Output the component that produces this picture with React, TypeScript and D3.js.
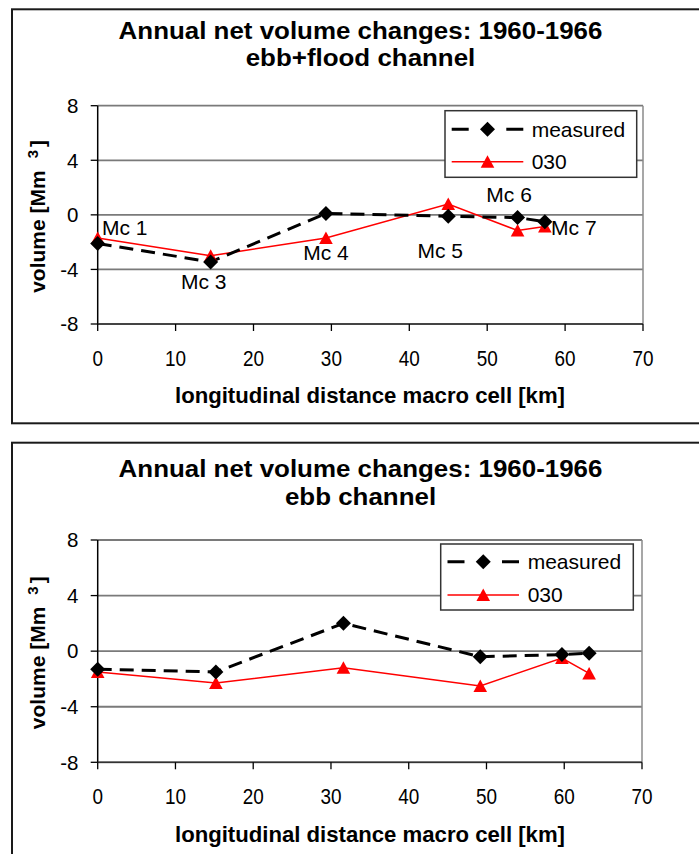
import React from "react";
import * as d3 from "d3";

// ---------- data ----------
const xTicks = [0, 10, 20, 30, 40, 50, 60, 70];
const yTicks = [-8, -4, 0, 4, 8];
const seriesNames = ["measured", "030"];
const titleLine1 = "Annual net volume changes: 1960-1966";
const subtitles = ["ebb+flood channel", "ebb channel"];
const xAxisTitle = "longitudinal distance macro cell [km]";

const topX = [0, 14.5, 29.3, 45.0, 53.9, 57.4];
const topMeasured = [-2.1, -3.45, 0.1, -0.1, -0.2, -0.5];
const top030 = [-1.7, -3.0, -1.7, 0.8, -1.15, -0.85];
const topCellLabels = ["Mc 1", "Mc 3", "Mc 4", "Mc 5", "Mc 6", "Mc 7"];

const bottomX = [0, 15.2, 31.6, 49.2, 59.7, 63.2];
const bottomMeasured = [-1.3, -1.5, 2.0, -0.4, -0.25, -0.15];
const bottom030 = [-1.5, -2.3, -1.2, -2.5, -0.5, -1.6];

// label placement (pixels relative to the measured point)
const labelOffsets = [
  [27, -8.5],
  [-7, 27],
  [0, 46.5],
  [-8, 42],
  [-8.5, -16],
  [29, 13],
];

const FONT = "'Liberation Sans', Arial, Helvetica, sans-serif";

type Layout = {
  boxTop: number;
  plotTop: number;
  plotBottom: number;
  plotLeft: number;
  plotRight: number;
  title1: number;
  title2: number;
  legend: { x0: number; x1: number; y0: number; y1: number; row1: number; row2: number; lineX0: number; lineX1: number; textX: number };
};

const diamond = (cx: number, cy: number, r: number) =>
  `M${cx},${cy - r}L${cx + r},${cy}L${cx},${cy + r}L${cx - r},${cy}Z`;
const triangle = (cx: number, cy: number) =>
  `M${cx},${cy - 6.5}L${cx + 6.8},${cy + 6}L${cx - 6.8},${cy + 6}Z`;

function Chart({
  layout,
  xs,
  measured,
  model,
  subtitle,
  labels,
}: {
  layout: Layout;
  xs: number[];
  measured: number[];
  model: number[];
  subtitle: string;
  labels?: string[];
}) {
  const { plotTop, plotBottom, plotLeft, plotRight, legend: lg } = layout;
  const x = d3.scaleLinear().domain([0, 70]).range([plotLeft, plotRight]);
  const y = d3.scaleLinear().domain([-8, 8]).range([plotBottom, plotTop]);
  const line = d3
    .line<number>()
    .x((_, i) => x(xs[i]))
    .y((d) => y(d));
  const midX = 360.5;

  return (
    <g fontFamily={FONT}>
      {/* frame */}
      <rect x={12} y={layout.boxTop} width={720} height={414} fill="white" stroke="#1a1a1a" strokeWidth={2} />
      {/* titles */}
      <text
        transform={`translate(${midX},${layout.title1}) scale(1.08,1)`}
        textAnchor="middle"
        fontSize={24}
        fontWeight="bold"
      >
        {titleLine1}
      </text>
      <text
        transform={`translate(${midX},${layout.title2}) scale(1.08,1)`}
        textAnchor="middle"
        fontSize={24}
        fontWeight="bold"
      >
        {subtitle}
      </text>
      {/* gridlines */}
      {yTicks.map((t) => (
        <line key={"g" + t} x1={plotLeft} x2={plotRight} y1={y(t)} y2={y(t)} stroke="#7a7a7a" strokeWidth={1.8} />
      ))}
      <line x1={plotRight} x2={plotRight} y1={plotTop} y2={plotBottom} stroke="#8a8a8a" strokeWidth={1.5} />
      {/* axes */}
      <line x1={plotLeft} x2={plotLeft} y1={plotTop} y2={plotBottom} stroke="#000" strokeWidth={1.5} />
      <line x1={plotLeft} x2={plotRight} y1={plotBottom} y2={plotBottom} stroke="#333" strokeWidth={1.5} />
      {yTicks.map((t) => (
        <g key={"yt" + t}>
          <line x1={plotLeft - 7} x2={plotLeft} y1={y(t)} y2={y(t)} stroke="#000" strokeWidth={1.3} />
          <text x={78.5} y={y(t) + 7.3} textAnchor="end" fontSize={20.5}>
            {t}
          </text>
        </g>
      ))}
      {xTicks.map((t) => (
        <g key={"xt" + t}>
          <line x1={x(t)} x2={x(t)} y1={plotBottom} y2={plotBottom + 7} stroke="#000" strokeWidth={1.3} />
          <text
            transform={`translate(${x(t)},${plotBottom + 41.5}) scale(0.88,1)`}
            textAnchor="middle"
            fontSize={21.5}
          >
            {t}
          </text>
        </g>
      ))}
      {/* axis titles */}
      <text x={370} y={plotBottom + 79.3} textAnchor="middle" fontSize={22} fontWeight="bold" textLength={390} lengthAdjust="spacingAndGlyphs">
        {xAxisTitle}
      </text>
      <text transform={`translate(45,${(plotTop + plotBottom) / 2 + 78}) rotate(-90)`} fontSize={21} fontWeight="bold">
        <tspan>volume [Mm</tspan>
        <tspan dx={12} dy={-7} fontSize={15}>3</tspan>
        <tspan dx={3} dy={7}>]</tspan>
      </text>
      {/* series: 030 */}
      <path d={line(model) || ""} fill="none" stroke="#ff0000" strokeWidth={1.5} />
      {/* series: measured */}
      <path d={line(measured) || ""} fill="none" stroke="#000" strokeWidth={3} strokeDasharray="14 8" />
      {model.map((v, i) => (
        <path key={"t" + i} d={triangle(x(xs[i]), y(v))} fill="#ff0000" />
      ))}
      {measured.map((v, i) => (
        <path key={"d" + i} d={diamond(x(xs[i]), y(v), 7.5)} fill="#000" />
      ))}
      {/* data labels */}
      {labels &&
        labels.map((s, i) => (
          <text
            key={"l" + i}
            x={x(xs[i]) + labelOffsets[i][0]}
            y={y(measured[i]) + labelOffsets[i][1]}
            textAnchor="middle"
            fontSize={21}
          >
            {s}
          </text>
        ))}
      {/* legend */}
      <rect x={lg.x0} y={lg.y0} width={lg.x1 - lg.x0} height={lg.y1 - lg.y0} fill="white" stroke="#333" strokeWidth={1.5} />
      <line x1={lg.lineX0} x2={lg.lineX1} y1={lg.row1} y2={lg.row1} stroke="#000" strokeWidth={3} strokeDasharray={`17 ${lg.lineX1 - lg.lineX0 - 34}`} />
      <path d={diamond((lg.lineX0 + lg.lineX1) / 2, lg.row1, 7.5)} fill="#000" />
      <text x={lg.textX} y={lg.row1 + 7.3} fontSize={21}>
        {seriesNames[0]}
      </text>
      <line x1={lg.lineX0} x2={lg.lineX1} y1={lg.row2} y2={lg.row2} stroke="#ff0000" strokeWidth={1.5} />
      <path d={triangle((lg.lineX0 + lg.lineX1) / 2, lg.row2)} fill="#ff0000" />
      <text x={lg.textX} y={lg.row2 + 7.3} fontSize={21}>
        {seriesNames[1]}
      </text>
    </g>
  );
}

const topLayout: Layout = {
  boxTop: 9.3,
  plotTop: 105.7,
  plotBottom: 324,
  plotLeft: 97.7,
  plotRight: 643,
  title1: 39.3,
  title2: 65.7,
  legend: { x0: 445, x1: 636.7, y0: 110.7, y1: 177.3, row1: 129.3, row2: 161.7, lineX0: 451.7, lineX1: 523.3, textX: 531.7 },
};

const bottomLayout: Layout = {
  boxTop: 442.7,
  plotTop: 540,
  plotBottom: 762.3,
  plotLeft: 97.7,
  plotRight: 642,
  title1: 477,
  title2: 505,
  legend: { x0: 440.7, x1: 633.3, y0: 544, y1: 610, row1: 561.7, row2: 595, lineX0: 447.5, lineX1: 519, textX: 527.7 },
};

export default function App() {
  return (
    <svg
      width={699}
      height={854}
      style={{ position: "absolute", left: 0, top: 0, background: "white" }}
    >
      <rect x={0} y={0} width={699} height={854} fill="white" />
      <Chart layout={topLayout} xs={topX} measured={topMeasured} model={top030} subtitle={subtitles[0]} labels={topCellLabels} />
      <Chart layout={bottomLayout} xs={bottomX} measured={bottomMeasured} model={bottom030} subtitle={subtitles[1]} />
    </svg>
  );
}
